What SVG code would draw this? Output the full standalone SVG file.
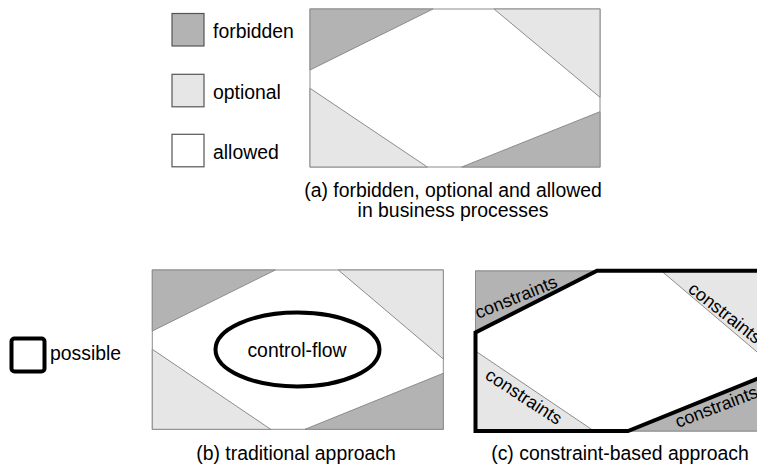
<svg xmlns="http://www.w3.org/2000/svg" width="757" height="466" viewBox="0 0 757 466">
<style>
text{font-family:"Liberation Sans",Arial,sans-serif;font-size:19.4px;fill:#000}
.frame{fill:#fff;stroke:#8c8c8c;stroke-width:1}
.forb{fill:#b3b3b3;stroke:#8c8c8c;stroke-width:1}
.opt{fill:#e6e6e6;stroke:#8c8c8c;stroke-width:1}
.leg{stroke:#555;stroke-width:1.2}
.thick{fill:none;stroke:#000;stroke-width:4;stroke-linejoin:miter}
.con{font-size:18px}
.mid{text-anchor:middle}
</style>
<g id="legend">
<g id="leg-forbidden"><rect class="forb leg" x="172" y="13.5" width="32" height="32.5"/><text x="213" y="38">forbidden</text></g>
<g id="leg-optional"><rect class="opt leg" x="172" y="74.3" width="32" height="32.5"/><text x="213" y="99">optional</text></g>
<g id="leg-allowed"><rect class="leg" fill="#fff" x="172" y="134.3" width="32" height="32.5"/><text x="213" y="158.5">allowed</text></g>
<g id="leg-possible"><rect class="thick" x="11.5" y="338.5" width="33" height="33" rx="3"/><text x="50" y="360">possible</text></g>
</g>
<g id="panel-a">
<rect class="frame" x="310" y="9" width="290" height="158"/>
<polygon class="forb" points="310,9 433,9 310,70"/>
<polygon class="opt" points="494,9 600,9 600,97.3"/>
<polygon class="opt" points="310,88.3 310,167 427.3,167"/>
<polygon class="forb" points="461.7,167 600,111.7 600,167"/>
<text class="mid" x="453" y="196.5">(a) forbidden, optional and allowed</text>
<text class="mid" x="453" y="216.5">in business processes</text>
</g>
<g id="panel-b">
<rect class="frame" x="152.3" y="270" width="291" height="159.3"/>
<polygon class="forb" points="152.3,270 275.3,270 152.3,331"/>
<polygon class="opt" points="338.3,270 443.3,270 443.3,359"/>
<polygon class="opt" points="152.3,349.3 152.3,429.3 270.7,429.3"/>
<polygon class="forb" points="305,429.3 443.3,373.3 443.3,429.3"/>
<g id="control-flow"><ellipse class="thick" cx="297.5" cy="349.5" rx="82" ry="37"/><text class="mid" x="297" y="356.5">control-flow</text></g>
<text class="mid" x="296" y="459.5">(b) traditional approach</text>
</g>
<g id="panel-c">
<rect class="frame" x="475.5" y="271" width="291" height="160"/>
<polygon class="forb" points="475.5,271 598,271 475.5,332.5"/>
<polygon class="opt" points="661.5,271 766.5,271 766.5,360"/>
<polygon class="opt" points="475.5,351 475.5,431 594,431"/>
<polygon class="forb" points="628,431 766.5,375 766.5,431"/>
<polygon id="possible-region" class="thick" points="597,270.7 766.5,270.7 766.5,375 628,431 475.5,431 475.5,332.5"/>
<text class="con" transform="translate(478,319) rotate(-22)">constraints</text>
<text class="con" transform="translate(687,291) rotate(38)">constraints</text>
<text class="con" transform="translate(484,378) rotate(33)">constraints</text>
<text class="con" transform="translate(678,428) rotate(-21)">constraints</text>
<text class="mid" x="620" y="459.5">(c) constraint-based approach</text>
</g>
</svg>
